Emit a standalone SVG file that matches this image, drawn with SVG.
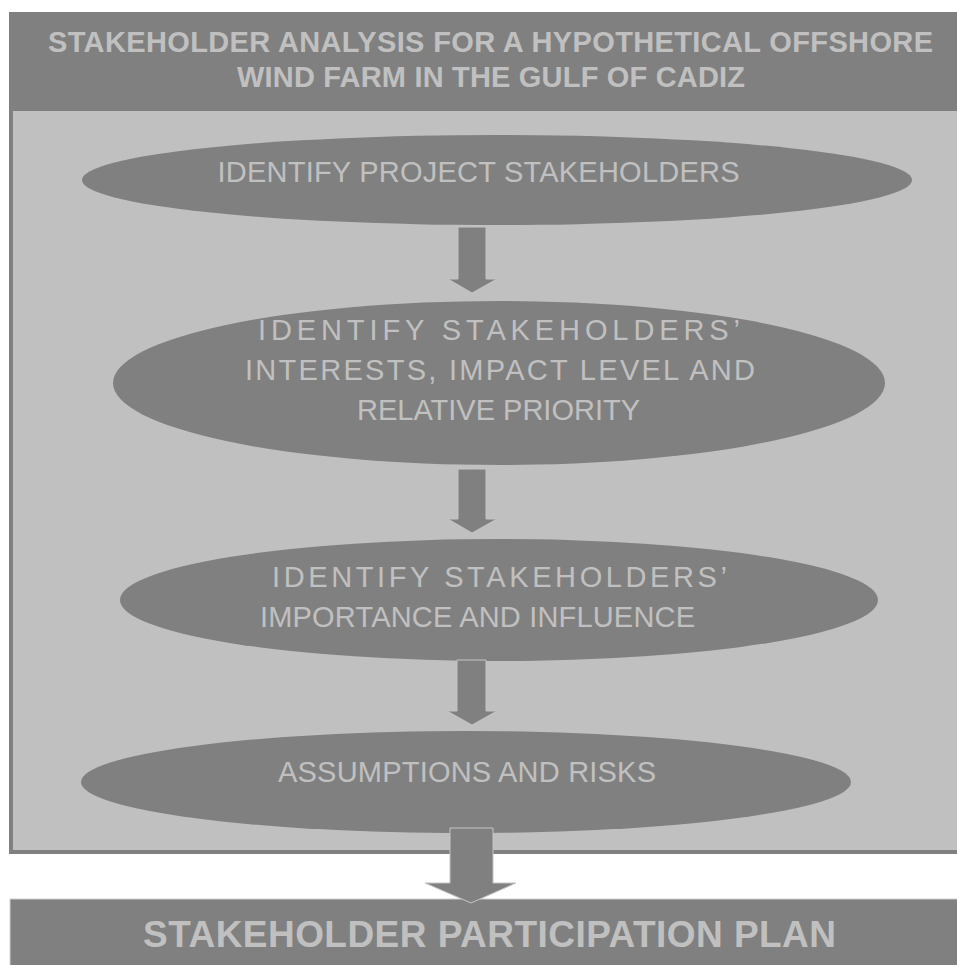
<svg xmlns="http://www.w3.org/2000/svg" width="957" height="965" viewBox="0 0 957 965">
  <style>
    .bar { fill: #808080; }
    .panel { fill: #c0c0c0; stroke: #808080; stroke-width: 4; }
    .step { fill: #808080; }
    .arrow { fill: #808080; stroke: #c4c4c4; stroke-width: 1; stroke-linejoin: miter; }
    .head { font-family: "Liberation Sans", Arial, sans-serif; font-weight: bold; fill: #c0c0c0; text-anchor: middle; }
    .label { font-family: "Liberation Sans", Arial, sans-serif; font-size: 29px; fill: #c0c0c0; text-anchor: middle; }
  </style>

  <rect width="957" height="965" fill="#ffffff"/>

  <!-- title bar -->
  <g id="title">
    <rect class="bar" x="9" y="12" width="960" height="98"/>
    <text class="head" font-size="29" x="490.5" y="52" textLength="885" lengthAdjust="spacing">STAKEHOLDER ANALYSIS FOR A HYPOTHETICAL OFFSHORE</text>
    <text class="head" font-size="29" x="491" y="87" textLength="508" lengthAdjust="spacing">WIND FARM IN THE GULF OF CADIZ</text>
  </g>

  <!-- analysis panel -->
  <g id="panel">
    <rect class="panel" x="11" y="109" width="960" height="743"/>
  </g>

  <g id="step-identify">
    <ellipse class="step" cx="497" cy="180" rx="415" ry="45"/>
    <text class="label" x="478.5" y="182" textLength="522" lengthAdjust="spacing">IDENTIFY PROJECT STAKEHOLDERS</text>
  </g>

  <g id="step-interests">
    <ellipse class="step" cx="499" cy="383" rx="386" ry="82"/>
    <text class="label" x="499" y="340" textLength="482" lengthAdjust="spacing">IDENTIFY STAKEHOLDERS’</text>
    <text class="label" x="500" y="380" textLength="510" lengthAdjust="spacing">INTERESTS, IMPACT LEVEL AND</text>
    <text class="label" x="498.5" y="420" textLength="283" lengthAdjust="spacing">RELATIVE PRIORITY</text>
  </g>

  <g id="step-importance">
    <ellipse class="step" cx="499" cy="600" rx="379" ry="61"/>
    <text class="label" x="499.5" y="587" textLength="455" lengthAdjust="spacing">IDENTIFY STAKEHOLDERS’</text>
    <text class="label" x="477.5" y="627" textLength="435" lengthAdjust="spacing">IMPORTANCE AND INFLUENCE</text>
  </g>

  <g id="step-risks">
    <ellipse class="step" cx="466" cy="782" rx="385" ry="51"/>
    <text class="label" x="467" y="782" textLength="378" lengthAdjust="spacing">ASSUMPTIONS AND RISKS</text>
  </g>

  <!-- outcome bar -->
  <g id="plan">
    <rect class="bar" x="10" y="899" width="960" height="70" stroke="#d0d0d0" stroke-width="1"/>
    <text class="head" font-size="37" x="489.5" y="947" textLength="693" lengthAdjust="spacing">STAKEHOLDER PARTICIPATION PLAN</text>
  </g>

  <!-- flow arrows -->
  <g id="connectors">
    <polygon class="arrow" points="458,227 486,227 486,279 497,279 472,293 448,279 458,279"/>
    <polygon class="arrow" points="458,469 486,469 486,519 497,519 472,533 448,519 458,519"/>
    <polygon class="arrow" points="457,660 486,660 486,711 497,711 472,725 447,711 457,711"/>
    <polygon class="arrow" points="450,828 493,828 493,883 516,883 471,903 425,883 450,883"/>
  </g>
</svg>
